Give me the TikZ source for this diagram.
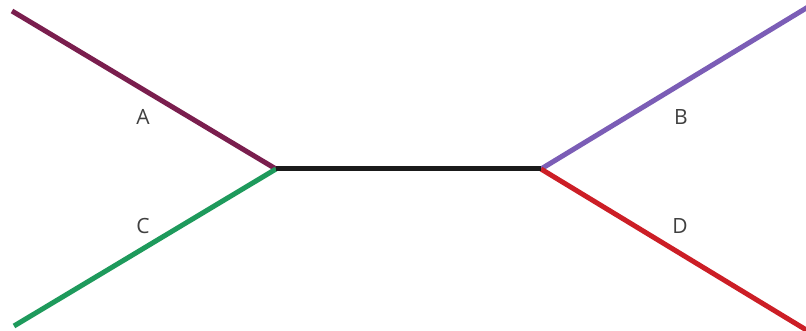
\documentclass[tikz,border=0pt]{standalone}
\usepackage{fontspec}
\setmainfont{Open Sans}
\definecolor{cA}{HTML}{7A1E4E}
\definecolor{cB}{HTML}{7B5DB6}
\definecolor{cC}{HTML}{1E9A5C}
\definecolor{cD}{HTML}{CC1E26}
\definecolor{cM}{HTML}{1A1A1A}
\definecolor{lab}{HTML}{404040}
\begin{document}
\begin{tikzpicture}[x=1pt,y=-1pt,
  branch/.style={line width=5pt},
  lbl/.style={text=lab,font=\fontsize{21}{21}\selectfont,inner sep=0pt}]
\useasboundingbox[fill=white] (0,0) rectangle (806,331);
\coordinate (L) at (276,169);
\coordinate (R) at (541,169);
\coordinate (a) at (12,11);
\coordinate (c) at (14,326);
\coordinate (b) at (808,7);
\coordinate (d) at (808,331);
\draw[branch,cA] (a) -- (L);
\draw[branch,cC] (c) -- (L);
\draw[branch,cB] (b) -- (R);
\draw[branch,cD] (d) -- (R);
\draw[branch,cM] (L) -- (R);
\node[lbl] (tA) at (143,117) {A};
\node[lbl] (tC) at (143,226) {C};
\node[lbl] (tB) at (681,117) {B};
\node[lbl] (tD) at (680,226) {D};
\end{tikzpicture}
\end{document}
